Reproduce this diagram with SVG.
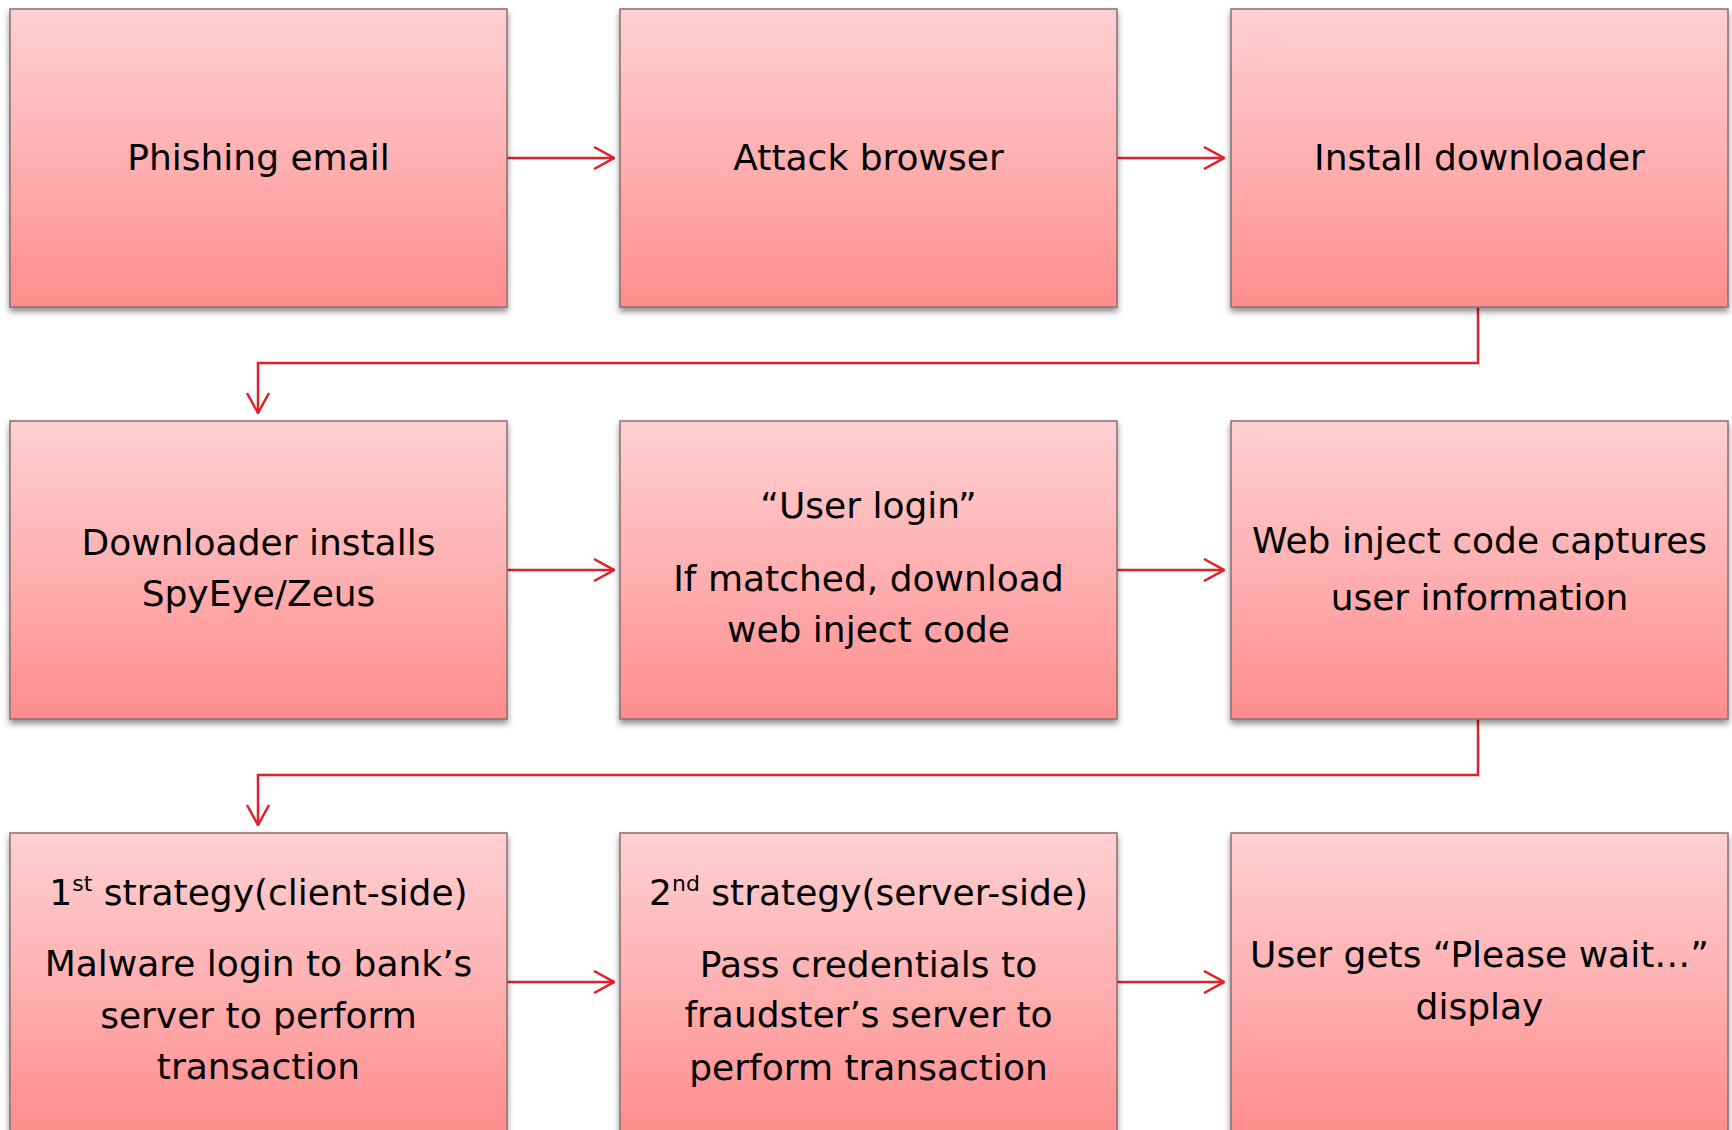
<svg xmlns="http://www.w3.org/2000/svg" width="1732" height="1130" viewBox="0 0 1732 1130">
<defs>
<linearGradient id="g" x1="0" y1="0" x2="0" y2="1">
<stop offset="0" stop-color="#ffd0d2"/>
<stop offset="0.5" stop-color="#ffb0b1"/>
<stop offset="1" stop-color="#ff8d8d"/>
</linearGradient>
<filter id="sh" x="-5%" y="-5%" width="110%" height="115%">
<feDropShadow dx="0" dy="4" stdDeviation="3" flood-color="#000" flood-opacity="0.45"/>
</filter>
<marker id="ah" viewBox="0 0 22 24" refX="21" refY="12" markerWidth="22" markerHeight="24" markerUnits="userSpaceOnUse" orient="auto">
<path d="M1,1 L21,12 L1,23" fill="none" stroke="#e0212c" stroke-width="2.5"/>
</marker>
<style>
.box{fill:url(#g);stroke:#8c6e6e;stroke-width:1.5;filter:url(#sh)}
.t{font-family:"DejaVu Sans",Verdana,sans-serif;font-size:36px;fill:#000;text-anchor:middle}
.sup{font-size:22px}
.c{fill:none;stroke:#e0212c;stroke-width:2.5;marker-end:url(#ah)}
</style>
</defs>
<g id="connectors">
<path class="c" d="M507,158 H614"/>
<path class="c" d="M1116,158 H1224"/>
<path class="c" d="M1478,307 V363 H258 V413"/>
<path class="c" d="M507,570 H614"/>
<path class="c" d="M1116,570 H1224"/>
<path class="c" d="M1478,719 V775 H258 V825"/>
<path class="c" d="M507,982 H614"/>
<path class="c" d="M1116,982 H1224"/>
</g>
<g id="n1"><rect class="box" x="10" y="9" width="497" height="298"/><text class="t" x="258.5" y="170">Phishing email</text></g>
<g id="n2"><rect class="box" x="620" y="9" width="497" height="298"/><text class="t" x="868.5" y="170">Attack browser</text></g>
<g id="n3"><rect class="box" x="1231" y="9" width="497" height="298"/><text class="t" x="1479.5" y="170">Install downloader</text></g>
<g id="n4"><rect class="box" x="10" y="421" width="497" height="298"/><text class="t" x="258.5" y="555">Downloader installs</text><text class="t" x="258.5" y="606">SpyEye/Zeus</text></g>
<g id="n5"><rect class="box" x="620" y="421" width="497" height="298"/><text class="t" x="868.5" y="518">“User login”</text><text class="t" x="868.5" y="591">If matched, download</text><text class="t" x="868.5" y="642">web inject code</text></g>
<g id="n6"><rect class="box" x="1231" y="421" width="497" height="298"/><text class="t" x="1479.5" y="553">Web inject code captures</text><text class="t" x="1479.5" y="610">user information</text></g>
<g id="n7"><rect class="box" x="10" y="833" width="497" height="300"/><text class="t" x="258.5" y="905">1<tspan class="sup" dy="-14">st</tspan><tspan dy="14"> strategy(client-side)</tspan></text><text class="t" x="258.5" y="976">Malware login to bank’s</text><text class="t" x="258.5" y="1028">server to perform</text><text class="t" x="258.5" y="1079">transaction</text></g>
<g id="n8"><rect class="box" x="620" y="833" width="497" height="300"/><text class="t" x="868.5" y="905">2<tspan class="sup" dy="-14">nd</tspan><tspan dy="14"> strategy(server-side)</tspan></text><text class="t" x="868.5" y="977">Pass credentials to</text><text class="t" x="868.5" y="1027">fraudster’s server to</text><text class="t" x="868.5" y="1080">perform transaction</text></g>
<g id="n9"><rect class="box" x="1231" y="833" width="497" height="300"/><text class="t" x="1479.5" y="967">User gets “Please wait…”</text><text class="t" x="1479.5" y="1019">display</text></g>
</svg>
